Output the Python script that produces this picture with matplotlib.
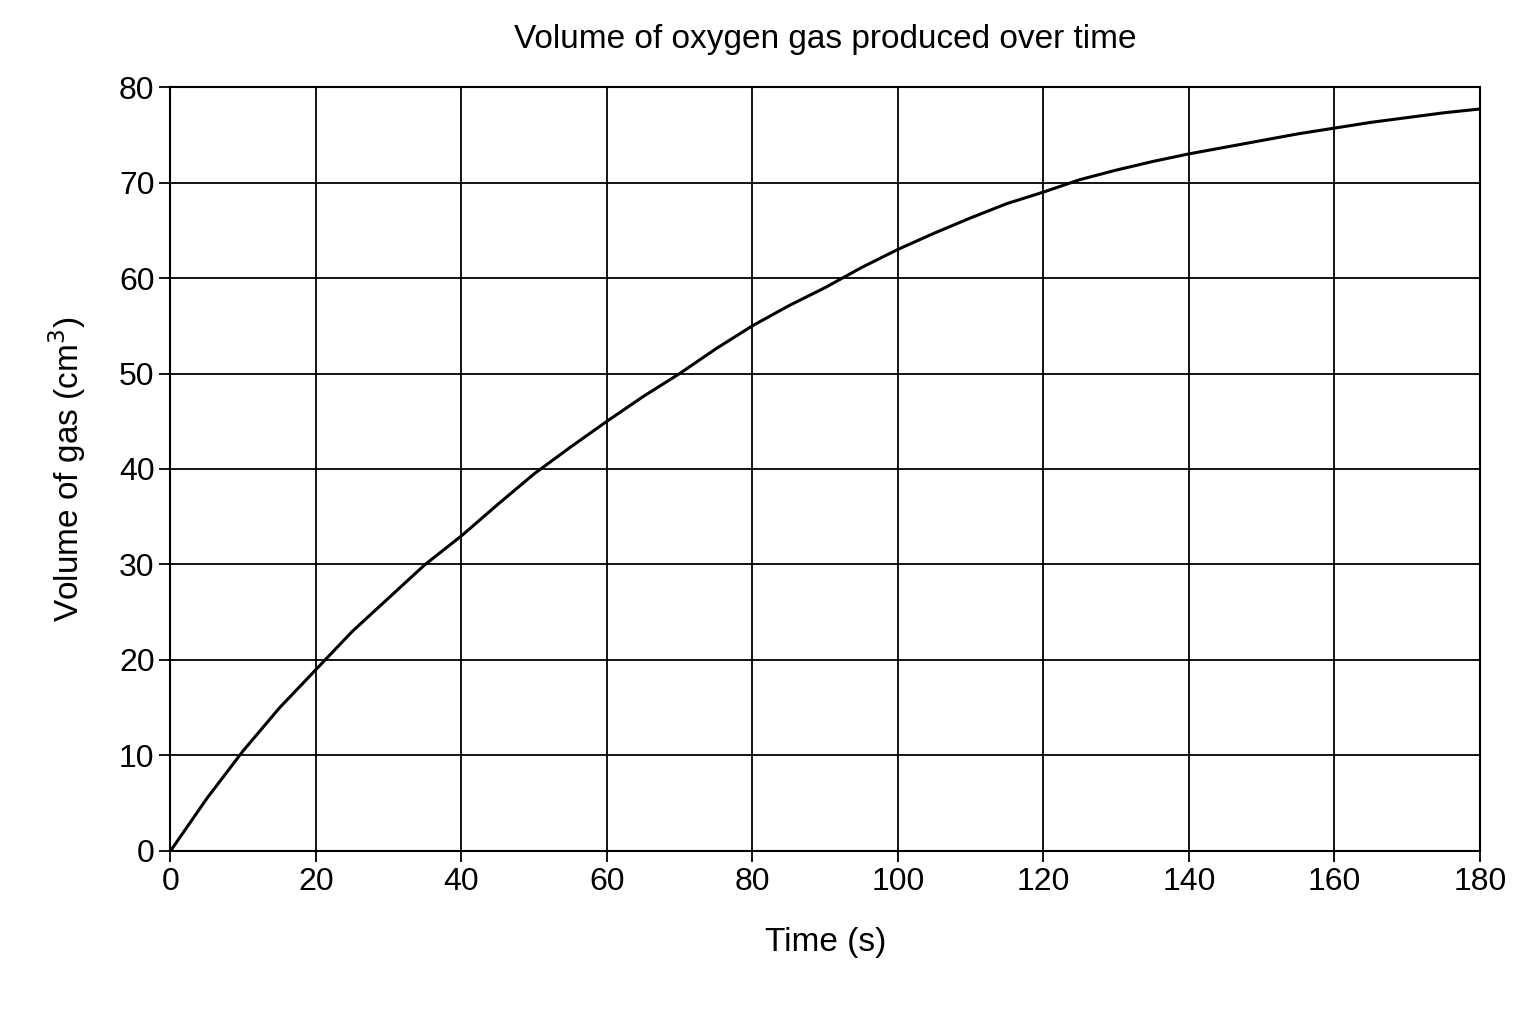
import matplotlib.pyplot as plt

# values
czas = list(range(0, 181, 5))
objetosc = [0, 5.5, 10.5, 15, 19, 23, 26.5, 30, 33, 36.3, 39.5, 42.3, 45, 47.6, 50, 52.6,
            55, 57.1, 59, 61.1, 63, 64.7, 66.3, 67.8, 69, 70.3, 71.3, 72.2, 73, 73.7,
            74.4, 75.1, 75.7, 76.3, 76.8, 77.3, 77.7]
x_ticks = list(range(0, 181, 20))
y_ticks = list(range(0, 81, 10))

plt.rcParams['font.family'] = ['Liberation Sans', 'DejaVu Sans']

fig = plt.figure(figsize=(15.36, 10.24), dpi=100)
ax = fig.add_axes([0.111, 0.169, 0.8525, 0.746])
ax.plot(czas, objetosc, color='black', linewidth=2.2)
ax.set_xlim(0, 180)
ax.set_ylim(0, 80)
ax.set_xticks(x_ticks)
ax.set_yticks(y_ticks)
ax.grid(True, color='black', linewidth=1.3)
for s in ax.spines.values():
    s.set_linewidth(1.5)
ax.tick_params(labelsize=23, length=8, width=1.3)
ax.set_title("Volume of oxygen gas produced over time", fontsize=24, pad=28)
ax.set_xlabel("Time (s)", fontsize=24, labelpad=22)
ax.set_ylabel("Volume of gas (cm$^3$)", fontsize=24, labelpad=22)
fig.savefig("out.png", dpi=100)
plt.close(fig)
